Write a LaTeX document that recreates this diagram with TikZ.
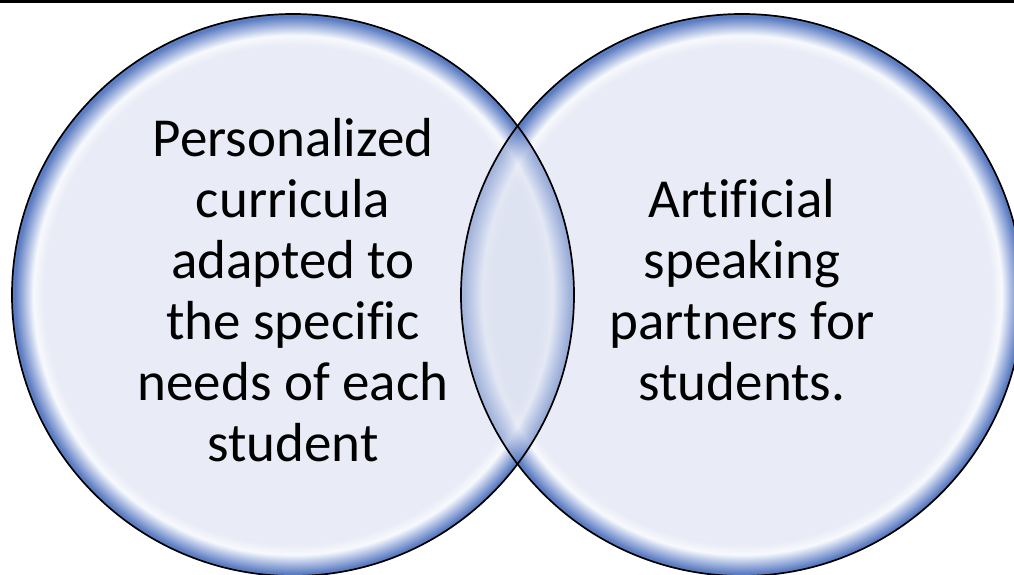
\documentclass[tikz,border=0pt]{standalone}
\usepackage{fontspec}
\setmainfont[Ligatures=NoCommon]{Carlito}
\definecolor{bfill}{HTML}{E9ECF6}
\definecolor{bwhite}{HTML}{F7F9FD}
\definecolor{bmid}{HTML}{B4C3E6}
\definecolor{bdark}{HTML}{5D7DC2}
\definecolor{lens}{HTML}{8FA3D6}
\pgfdeclareradialshading{bubble}{\pgfpoint{0bp}{0bp}}{%
  color(0bp)=(bfill); color(22.2bp)=(bfill); color(23.1bp)=(bwhite);
  color(23.8bp)=(bmid); color(24.75bp)=(bdark); color(25bp)=(bdark);
  color(50bp)=(bdark)}
\tikzset{
  bubblefill/.style={shading=bubble},
  rimline/.style={draw=black, line width=1.7pt},
  label/.style={inner sep=0pt, align=center, text=black,
    font=\fontsize{55}{61}\selectfont}
}
\begin{document}
\begin{tikzpicture}[x=1pt,y=1pt]
\useasboundingbox (0,0) rectangle (1014,574);
\coordinate (cl) at (293,279);
\coordinate (cr) at (742,279);
% circles
\shade[bubblefill] (cl) circle (281pt);
\shade[bubblefill] (cr) circle (281pt);
\begin{scope}
  \clip (cr) circle (281pt);
  \shade[bubblefill, fill opacity=0.55] (cl) circle (281pt);
  \fill[lens, fill opacity=0.12] (cl) circle (281pt);
\end{scope}
\draw[rimline] (cl) circle (281pt);
\draw[rimline] (cr) circle (281pt);
% top bar
\fill[black] (0,571) rectangle (1014,574);
% texts
\node[label] (lt) at (293,284) {Personalized\\curricula\\adapted to\\the specific\\needs of each\\student};
\node[label] (rt) at (742,284) {Artificial\\speaking\\partners for\\students.};
\end{tikzpicture}
\end{document}
